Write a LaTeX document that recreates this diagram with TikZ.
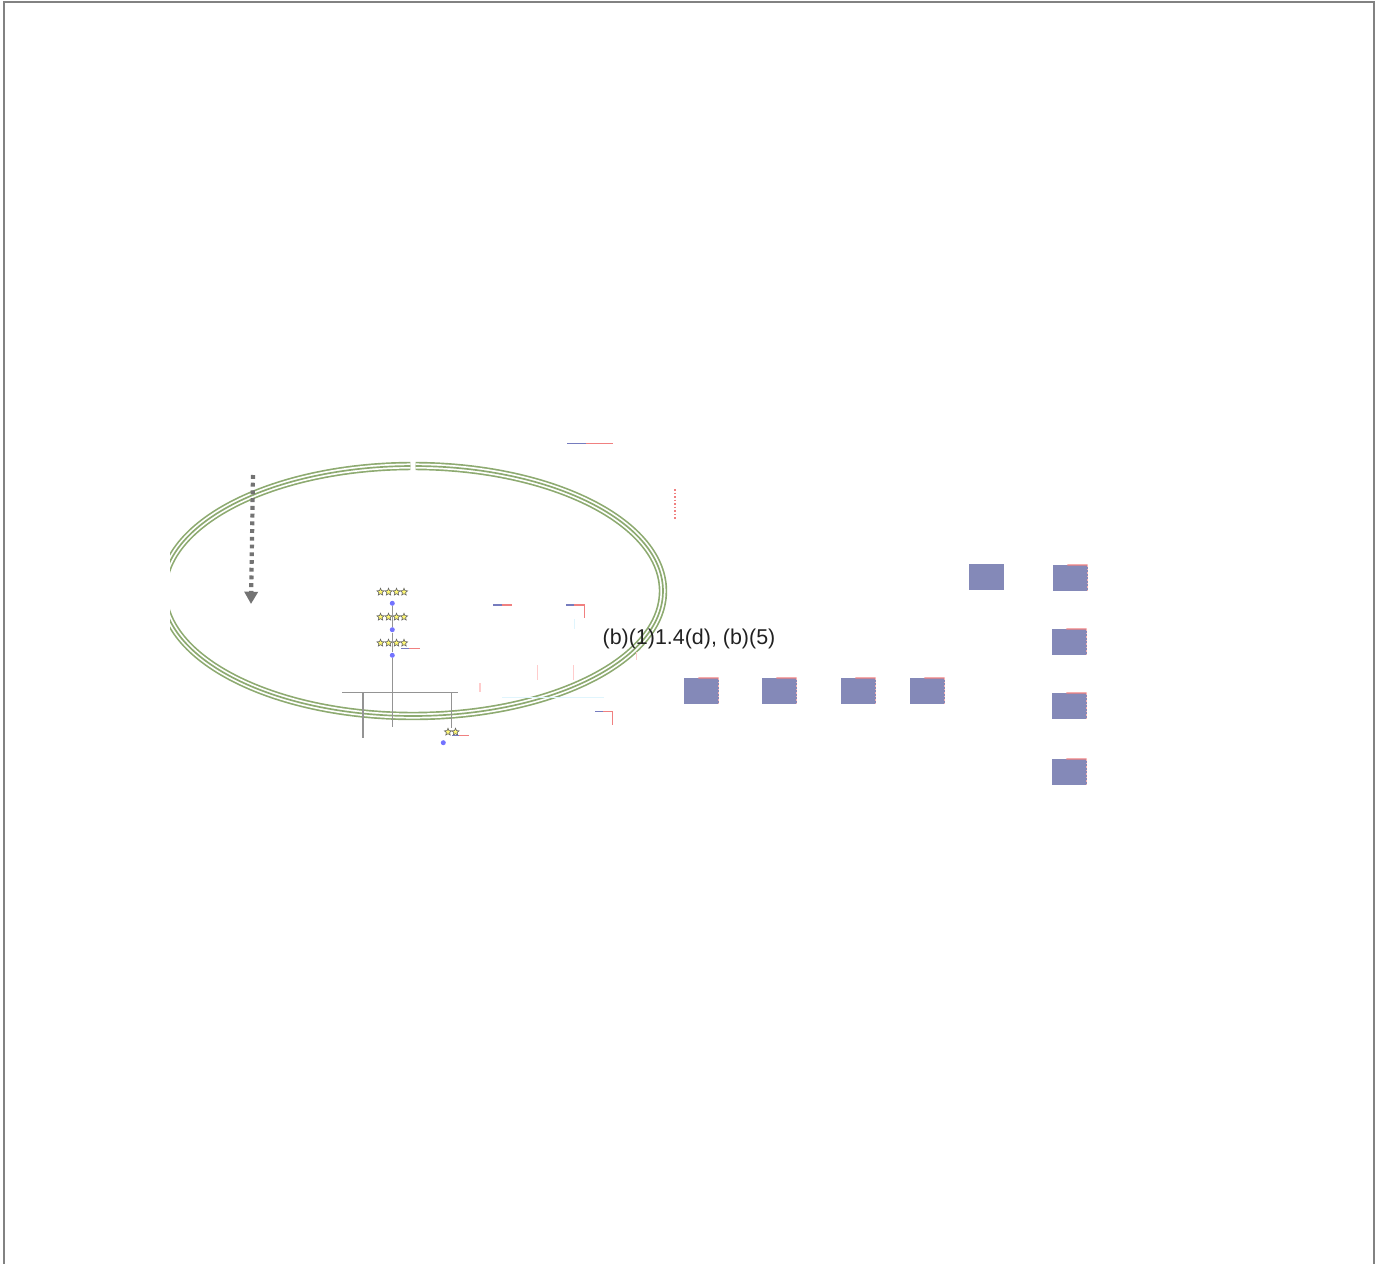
\documentclass[tikz,border=0pt]{standalone}
\usepackage{fontspec}
\setmainfont{Liberation Sans}
\usetikzlibrary{shapes.geometric, arrows.meta, positioning, calc}

\definecolor{ringgreen}{RGB}{141,170,112}
\definecolor{boxblue}{RGB}{132,137,184}
\definecolor{tickblue}{RGB}{118,124,190}
\definecolor{tickred}{RGB}{240,128,128}
\definecolor{framegray}{RGB}{130,130,130}

\begin{document}
\begin{tikzpicture}[
    x=0.02cm, y=-0.02cm,
    >=Triangle,
    % --- Shape styles ---
    framebox/.style={draw=framegray, line width=1.6pt},
    ringouter/.style={draw=ringgreen, line width=4.8pt},
    ringgap/.style={draw=white, line width=2.9pt},
    ringinner/.style={draw=ringgreen, line width=0.95pt},
    blockbox/.style={fill=boxblue, inner sep=0pt, outer sep=0pt,
        minimum width=0.69cm, minimum height=0.52cm, anchor=north west},
    starmark/.style={star, star points=5, star point ratio=2.2,
        fill=yellow!55, draw=black!60, line width=0.35pt,
        inner sep=0pt, minimum size=0.15cm},
    dotmark/.style={circle, fill=blue!55, inner sep=0pt, minimum size=0.1cm},
    % --- Line styles ---
    treeline/.style={draw=black!42, line width=0.6pt},
    droparrow/.style={->, draw=black!55, line width=2.4pt,
        dash pattern=on 2.2pt off 2.2pt,
        arrows={-Triangle[width=7.5pt, length=7pt]}},
    bluetick/.style={draw=tickblue, line width=0.7pt},
    redtick/.style={draw=tickred, line width=0.7pt},
    faintred/.style={draw=red!20, line width=0.6pt},
    faintcyan/.style={draw=cyan!12, line width=0.6pt},
    codelbl/.style={font=\fontsize{12.2}{14}\selectfont, text=black!87, inner sep=0pt},
]

\clip (0,0) rectangle (1383,1264);

% ---- Outer frame ----
\draw[framebox] (4,2) rectangle (1374,1300);

% ---- Green ring (clipped on the left) ----
\begin{scope}
\clip (170,0) rectangle (1383,1264);
\foreach \st in {ringouter, ringgap, ringinner}{
    \draw[\st] (413,591) ++(270.6:250 and 125)
        arc[start angle=270.6, end angle=629.4, x radius=250, y radius=125];
}
\end{scope}

% ---- Dotted drop arrow ----
\coordinate (dropstart) at (253,475);
\coordinate (dropend)   at (251,604);
\draw[droparrow] (dropstart) -- (dropend);

% ---- Star rows and dots ----
\foreach \row/\yy in {1/592, 2/617, 3/643}{
    \foreach \xx [count=\k] in {380.5, 388.5, 396.5, 404}{
        \node[starmark] (star\row-\k) at (\xx,\yy) {};
    }
}
\node[starmark] (starp-1) at (448,732) {};
\node[starmark] (starp-2) at (455.5,732) {};

\node[dotmark] (dot1) at (392.3,603.3) {};
\node[dotmark] (dot2) at (392.3,629.7) {};
\node[dotmark] (dot3) at (392.3,655.3) {};
\node[dotmark] (dotp) at (443.3,742.7) {};

% ---- Tree lines ----
\coordinate (hubL) at (342,692.7);
\coordinate (hubR) at (458,692.7);
\coordinate (legLtop) at (363,692.7);
\coordinate (legRtop) at (451.5,692.7);
\coordinate (legL) at (363,738);
\coordinate (legM) at (392.3,727);
\coordinate (legR) at (451.5,728);

\draw[treeline] (dot1) -- (dot2);
\draw[treeline] (dot2) -- (dot3);
\draw[treeline] (dot3) -- (legM);
\draw[treeline] (hubL) -- (hubR);
\draw[treeline] (legLtop) -- (legL);
\draw[treeline] (legRtop) -- (legR);

% ---- Small colour ticks ----
\foreach \xa/\xb/\xc/\yy in {567/586/612.7/443.3, 493/501.7/511.7/605,
        566/574.3/584.7/605, 595/603.3/612.7/711.7,
        401/409/420/648.7, 452/459.3/468.7/735.7}{
    \draw[bluetick] (\xa,\yy) -- (\xb,\yy);
    \draw[redtick]  (\xb,\yy) -- (\xc,\yy);
}
\draw[redtick] (584.7,605) -- (584.7,618);
\draw[redtick] (612.7,711.7) -- (612.7,725);
\draw[redtick, dash pattern=on 1pt off 1pt] (675,489) -- (675,520);
\draw[faintred] (480,683) -- (480,692);
\draw[faintred] (537.7,665) -- (537.7,680);
\draw[faintred] (573.3,665) -- (573.3,680);
\draw[faintred] (636.7,652) -- (636.7,660);
\draw[faintcyan] (574.3,619) -- (574.3,629.3);
\draw[faintcyan] (501.7,697.7) -- (604.3,697.7);

% ---- Label ----
\node[codelbl] (reflbl) at (689,638.5) {(b)(1)1.4(d), (b)(5)};

% ---- Blue blocks ----
\foreach \nm/\bx/\by in {r1/684/678, r2/762/678, r3/841/678, r4/910/678,
        t1/969/564, c1/1053/565, c2/1052/629, c3/1052/693, c4/1052/759}{
    \node[blockbox] (blk\nm) at (\bx,\by) {};
}
\foreach \nm in {r1, r2, r3, r4, c1, c2, c3, c4}{
    \draw[redtick] ($(blk\nm.north west)!0.42!(blk\nm.north east)$) -- (blk\nm.north east);
    \draw[redtick, draw=tickred!60, dash pattern=on 1pt off 1pt]
        (blk\nm.north east) -- (blk\nm.south east);
}

\end{tikzpicture}
\end{document}
